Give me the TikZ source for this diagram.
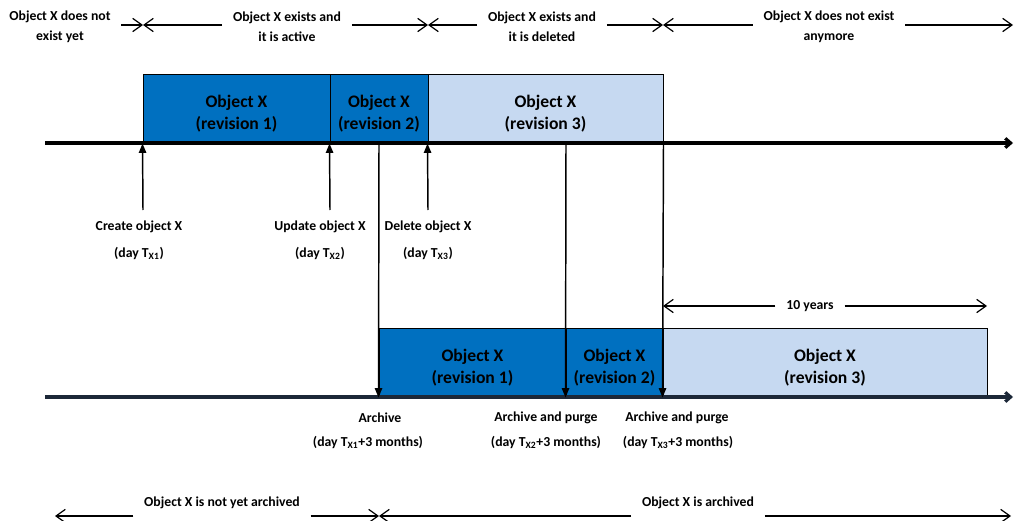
\documentclass[tikz,border=0pt]{standalone}
\usepackage{fontspec}
\setmainfont{Carlito}
\usetikzlibrary{arrows.meta,positioning,fit}
\definecolor{dkblue}{RGB}{0,112,192}
\definecolor{ltblue}{RGB}{198,217,241}
\definecolor{navy}{RGB}{28,40,56}

\begin{document}
\begin{tikzpicture}[
  x=0.75pt, y=-0.75pt,
  font=\bfseries\fontsize{10.3}{15}\selectfont,
  rev/.style={draw, line width=0.75pt, inner sep=0pt},
  dk/.style={rev, fill=dkblue},
  lt/.style={rev, fill=ltblue},
  rtx/.style={align=center, inner sep=0pt, yshift=-3.5pt, font=\bfseries\fontsize{13.2}{16.5}\selectfont},
  lbl/.style={align=center, inner sep=0pt},
  gap/.style={align=center, inner sep=8pt},
  axis/.style={-{Straight Barb[length=4pt,width=7pt]}, line width=2.4pt},
  up/.style={-{Triangle[length=7pt,width=5.5pt]}, line width=1.1pt},
  hd/.style={-{Straight Barb[length=7pt,width=10pt]}, line width=0.9pt}
]
\useasboundingbox (0,0) rectangle (1015,521);

% current revisions
\node[dk, fit={(143,74) (330,143)}, label={[rtx]center:{Object X\\(revision 1)}}] (t1) {};
\node[dk, fit={(330,74) (428,143)}, label={[rtx]center:{Object X\\(revision 2)}}] (t2) {};
\node[lt, fit={(428,74) (663,143)}, label={[rtx]center:{Object X\\(revision 3)}}] (t3) {};

% archived revisions
\node[dk, fit={(379,328) (566,397)}, label={[rtx]center:{Object X\\(revision 1)}}] (b1) {};
\node[dk, fit={(566,328) (663,397)}, label={[rtx]center:{Object X\\(revision 2)}}] (b2) {};
\node[lt, fit={(663,328) (987,397)}, label={[rtx]center:{Object X\\(revision 3)}}] (b3) {};

% time lines
\coordinate (o1) at (45,143);
\coordinate (e1) at (1013,143);
\coordinate (o2) at (45,397);
\coordinate (e2) at (1013,397);
\draw[axis] (o1) -- (e1);
\draw[axis, navy] (o2) -- (e2);

% events
\coordinate (u1) at (143,210);
\coordinate (u2) at (330,210);
\coordinate (u3) at (428,210);
\draw[up] (u1) -- (t1.south west);
\draw[up] (u2) -- (t2.south west);
\draw[up] (u3) -- (t3.south west);
\node[lbl] (cr) at (139,227) {Create object X};
\node[lbl] (crd) at (139,253) {(day T\textsubscript{X1})};
\node[lbl] (upd) at (320,227) {Update object X};
\node[lbl] (updd) at (320,253) {(day T\textsubscript{X2})};
\node[lbl] (del) at (428,227) {Delete object X};
\node[lbl] (deld) at (428,253) {(day T\textsubscript{X3})};

% archiving
\coordinate (d1) at (379,143);
\coordinate (d2) at (566,143);
\draw[up] (d1) -- (b1.south west);
\draw[up] (d2) -- (b2.south west);
\draw[up] (t3.south east) -- (b3.south west);
\node[lbl] (ar1) at (380,418) {Archive};
\node[lbl] (ar1d) at (368,442) {(day T\textsubscript{X1}+3 months)};
\node[lbl] (ar2) at (546,418) {Archive and purge};
\node[lbl] (ar2d) at (546,442) {(day T\textsubscript{X2}+3 months)};
\node[lbl] (ar3) at (677,418) {Archive and purge};
\node[lbl] (ar3d) at (678,442) {(day T\textsubscript{X3}+3 months)};

% 10 years
\node[gap] (ty) at (810,306) {10 years};
\coordinate (y0) at (663,306);
\coordinate (y1) at (987,306);
\draw[hd] (y0 -| ty.west) -- (y0);
\draw[hd] (y1 -| ty.east) -- (y1);

% object states
\coordinate (k0) at (143,25);
\coordinate (k1) at (428,25);
\coordinate (k2) at (663,25);
\coordinate (k3) at (1013,25);
\node[gap] (s0) at (60,27) {Object X does not\\exist yet};
\node[gap] (s1) at (287,27) {Object X exists and\\it is active};
\node[gap] (s2) at (542,27) {Object X exists and\\it is deleted};
\node[gap] (s3) at (829,27) {Object X does not exist\\anymore};
\draw[hd] (k0 -| s0.east) -- (k0);
\draw[hd] (k0 -| s1.west) -- (k0);
\draw[hd] (k1 -| s1.east) -- (k1);
\draw[hd] (k1 -| s2.west) -- (k1);
\draw[hd] (k2 -| s2.east) -- (k2);
\draw[hd] (k2 -| s3.west) -- (k2);
\draw[hd] (k3 -| s3.east) -- (k3);

% archive states
\coordinate (g0) at (55,516);
\coordinate (g1) at (379,516);
\coordinate (g2) at (1011,516);
\node[gap] (n0) at (222,503) {Object X is not yet archived};
\node[gap] (n1) at (698,503) {Object X is archived};
\draw[hd] (g0 -| n0.west) -- (g0);
\draw[hd] (g1 -| n0.east) -- (g1);
\draw[hd] (g1 -| n1.west) -- (g1);
\draw[hd] (g2 -| n1.east) -- (g2);
\end{tikzpicture}
\end{document}
